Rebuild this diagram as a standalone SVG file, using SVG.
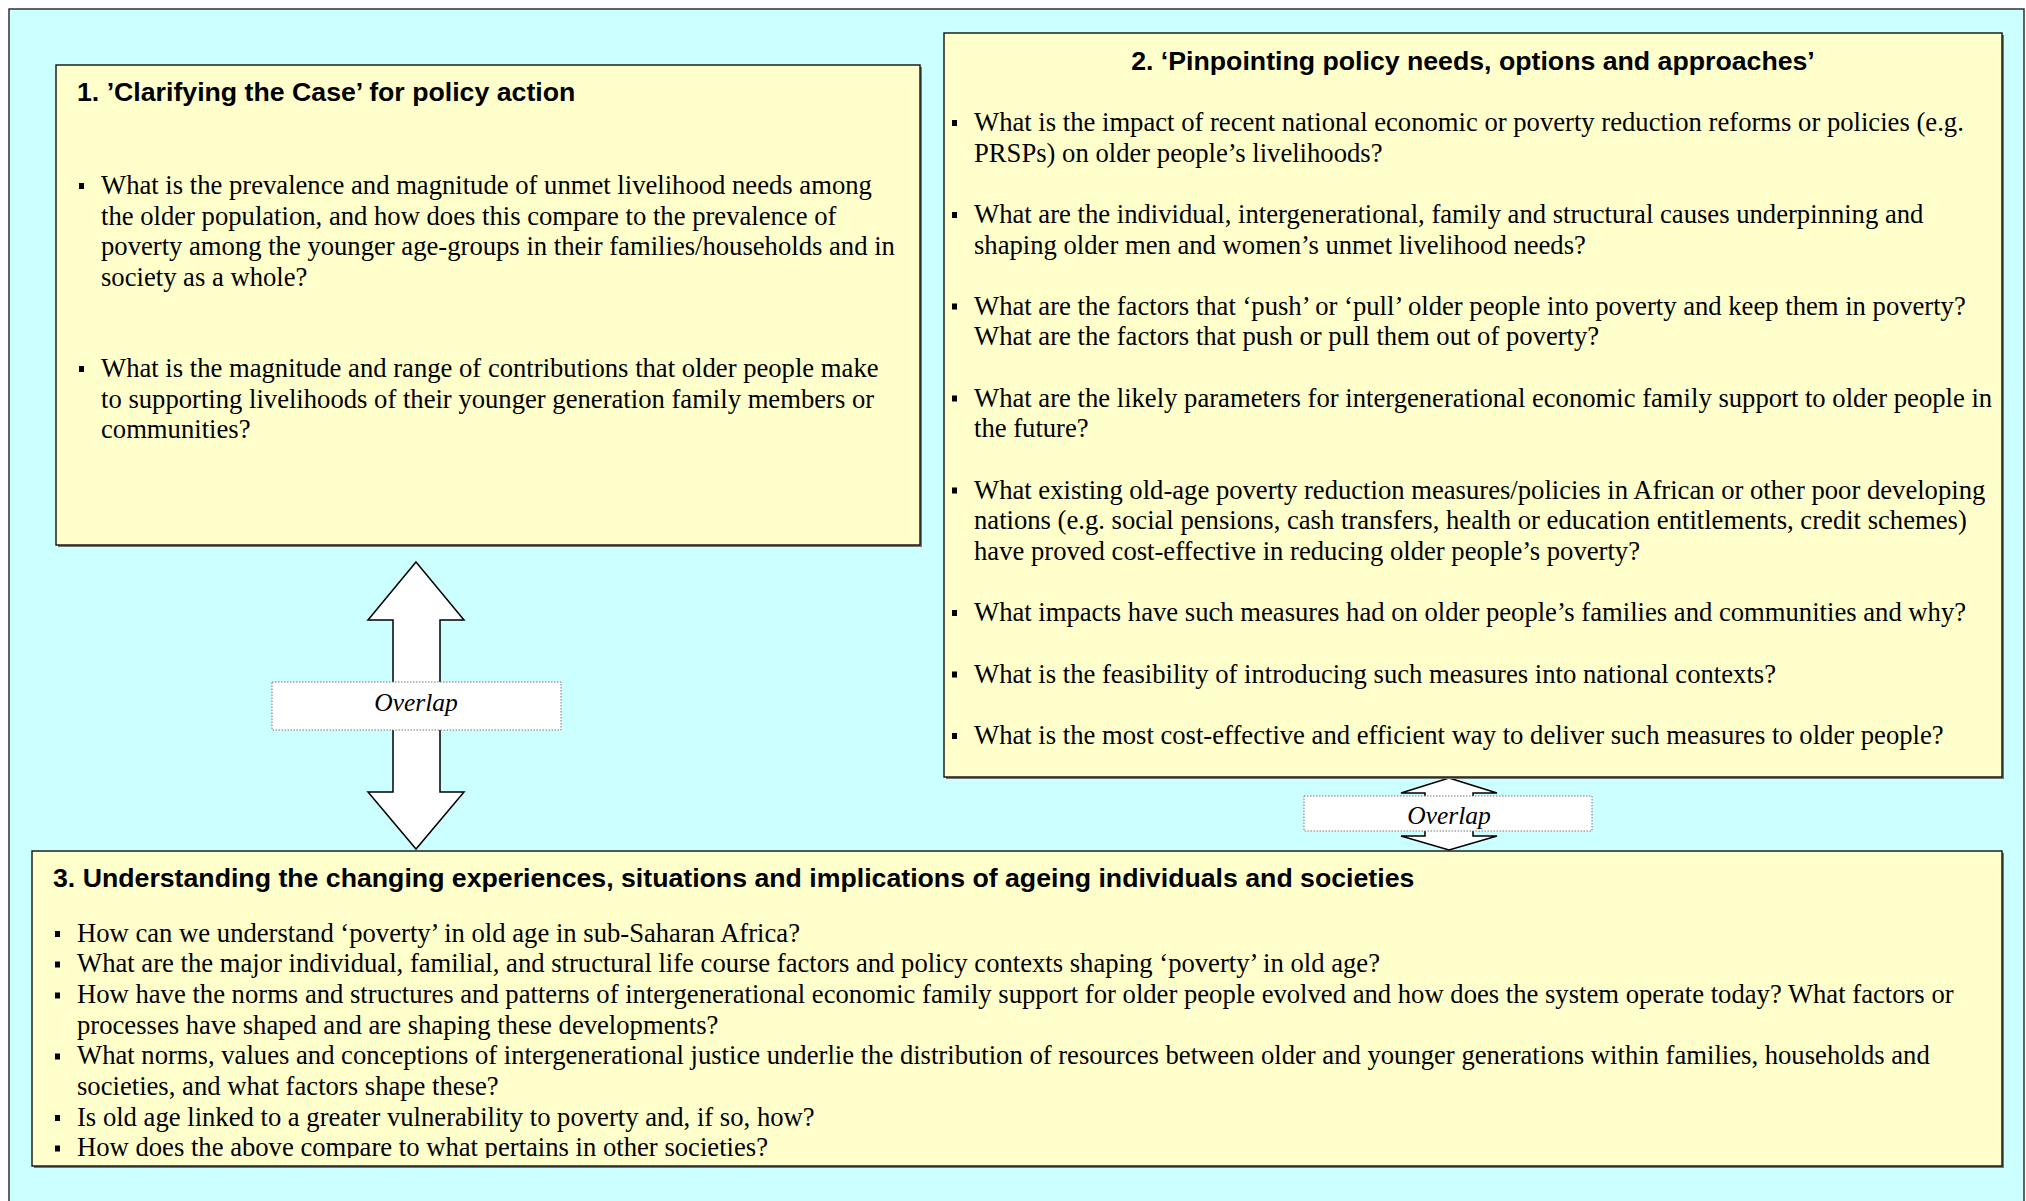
<svg xmlns="http://www.w3.org/2000/svg" width="2026" height="1201" viewBox="0 0 2026 1201">
<style>
.box{fill:#FFFFCC;stroke:#111;stroke-width:1.4}
.shadow{fill:#777}
.title{font-family:"Liberation Sans",Arial,sans-serif;font-weight:bold;font-size:26.7px;fill:#000}
.body{font-family:"Liberation Serif","Times New Roman",serif;font-size:26.65px;fill:#000}
.bul{fill:#000}
.arrow{fill:#fff;stroke:#000;stroke-width:1.5;stroke-linejoin:miter}
.lbl{fill:#fff;stroke:#777;stroke-width:1;stroke-dasharray:1.5 1.5}
.lbltxt{font-family:"Liberation Serif","Times New Roman",serif;font-style:italic;font-size:25.5px;fill:#000;text-anchor:middle}
</style>
<defs>
<clipPath id="clip3"><rect x="32" y="851" width="1970" height="307"/></clipPath>
</defs>
<rect x="0" y="0" width="2026" height="1201" fill="#fff"/>
<rect x="9" y="9" width="2015" height="1200" fill="#CCFFFF" stroke="#222" stroke-width="1.4"/>

<g id="connectors">
<polygon class="arrow" points="416,562 464,620 440,620 440,792 464,792 416,849 368,792 393,792 393,620 368,620"/>
<polygon class="arrow" points="1449,778 1497,793 1473,793 1473,836 1497,836 1449,850 1401,836 1425,836 1425,793 1401,793"/>
</g>

<g id="overlap1">
<rect class="lbl" x="272" y="682" width="289" height="48"/>
<text class="lbltxt" x="416" y="711">Overlap</text>
</g>
<g id="overlap2">
<rect class="lbl" x="1304" y="796" width="288" height="35"/>
<text class="lbltxt" x="1449" y="824">Overlap</text>
</g>

<g id="box1">
<rect class="shadow" x="58" y="67" width="864" height="480"/>
<rect class="box" x="56" y="65" width="864" height="480"/>
<text class="title" x="77" y="101">1. ’Clarifying the Case’ for policy action</text>
<rect class="bul" x="79" y="183" width="5" height="6"/>
<text class="body" x="101" y="194">What is the prevalence and magnitude of unmet livelihood needs among</text>
<text class="body" x="101" y="224.5">the older population, and how does this compare to the prevalence of</text>
<text class="body" x="101" y="255">poverty among the younger age-groups in their families/households and in</text>
<text class="body" x="101" y="285.5">society as a whole?</text>
<rect class="bul" x="79" y="366" width="5" height="6"/>
<text class="body" x="101" y="377">What is the magnitude and range of contributions that older people make</text>
<text class="body" x="101" y="407.5">to supporting livelihoods of their younger generation family members or</text>
<text class="body" x="101" y="438">communities?</text>
</g>

<g id="box2">
<rect class="shadow" x="946" y="35" width="1058" height="744"/>
<rect class="box" x="944" y="33" width="1058" height="744"/>
<text class="title" x="1473" y="69.5" text-anchor="middle">2. ‘Pinpointing policy needs, options and approaches’</text>
<rect class="bul" x="952" y="120" width="5" height="6"/>
<text class="body" x="974" y="131">What is the impact of recent national economic or poverty reduction reforms or policies (e.g.</text>
<text class="body" x="974" y="161.5">PRSPs) on older people’s livelihoods?</text>
<rect class="bul" x="952" y="212" width="5" height="6"/>
<text class="body" x="974" y="223">What are the individual, intergenerational, family and structural causes underpinning and</text>
<text class="body" x="974" y="253.5">shaping older men and women’s unmet livelihood needs?</text>
<rect class="bul" x="952" y="303.5" width="5" height="6"/>
<text class="body" x="974" y="314.5">What are the factors that ‘push’ or ‘pull’ older people into poverty and keep them in poverty?</text>
<text class="body" x="974" y="345">What are the factors that push or pull them out of poverty?</text>
<rect class="bul" x="952" y="395.5" width="5" height="6"/>
<text class="body" x="974" y="406.5">What are the likely parameters for intergenerational economic family support to older people in</text>
<text class="body" x="974" y="437">the future?</text>
<rect class="bul" x="952" y="487.5" width="5" height="6"/>
<text class="body" x="974" y="498.5">What existing old-age poverty reduction measures/policies in African or other poor developing</text>
<text class="body" x="974" y="529">nations (e.g. social pensions, cash transfers, health or education entitlements, credit schemes)</text>
<text class="body" x="974" y="559.5">have proved cost-effective in reducing older people’s poverty?</text>
<rect class="bul" x="952" y="610" width="5" height="6"/>
<text class="body" x="974" y="621">What impacts have such measures had on older people’s families and communities and why?</text>
<rect class="bul" x="952" y="671.5" width="5" height="6"/>
<text class="body" x="974" y="682.5">What is the feasibility of introducing such measures into national contexts?</text>
<rect class="bul" x="952" y="733" width="5" height="6"/>
<text class="body" x="974" y="744">What is the most cost-effective and efficient way to deliver such measures to older people?</text>
</g>

<g id="box3">
<rect class="shadow" x="34" y="853" width="1970" height="315"/>
<rect class="box" x="32" y="851" width="1970" height="315"/>
<text class="title" x="53" y="886.5">3. Understanding the changing experiences, situations and implications of ageing individuals and societies</text>
<g clip-path="url(#clip3)">
<rect class="bul" x="55" y="931" width="5" height="6"/>
<text class="body" x="77" y="941.5">How can we understand ‘poverty’ in old age in sub-Saharan Africa?</text>
<rect class="bul" x="55" y="961.5" width="5" height="6"/>
<text class="body" x="77" y="972.2">What are the major individual, familial, and structural life course factors and policy contexts shaping ‘poverty’ in old age?</text>
<rect class="bul" x="55" y="992.5" width="5" height="6"/>
<text class="body" x="77" y="1002.9">How have the norms and structures and patterns of intergenerational economic family support for older people evolved and how does the system operate today? What factors or</text>
<text class="body" x="77" y="1033.6">processes have shaped and are shaping these developments?</text>
<rect class="bul" x="55" y="1053.5" width="5" height="6"/>
<text class="body" x="77" y="1064.3">What norms, values and conceptions of intergenerational justice underlie the distribution of resources between older and younger generations within families, households and</text>
<text class="body" x="77" y="1095">societies, and what factors shape these?</text>
<rect class="bul" x="55" y="1115" width="5" height="6"/>
<text class="body" x="77" y="1125.7">Is old age linked to a greater vulnerability to poverty and, if so, how?</text>
<rect class="bul" x="55" y="1145.5" width="5" height="6"/>
<text class="body" x="77" y="1156.4">How does the above compare to what pertains in other societies?</text>
</g>
</g>
</svg>
